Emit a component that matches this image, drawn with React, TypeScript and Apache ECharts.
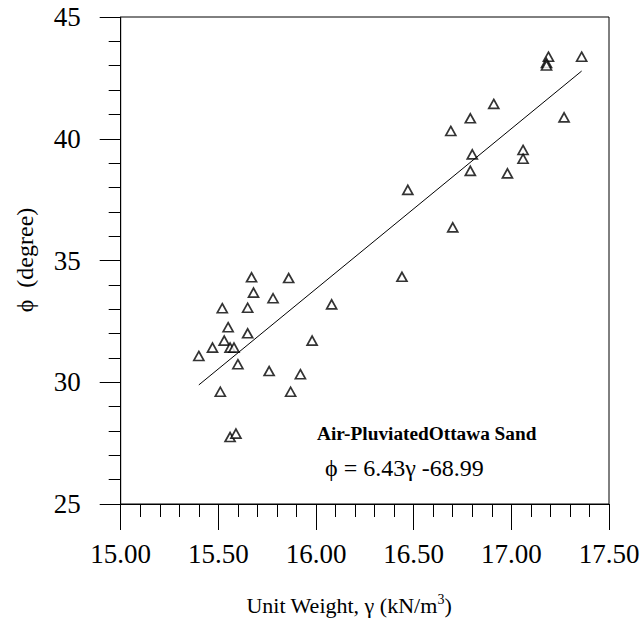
import React, { useEffect, useRef } from "react";
import * as echarts from "echarts";

const unitWeight = [
  15.67, 15.86, 15.68, 15.78, 16.08, 15.52, 15.65, 15.55, 15.65, 15.53,
  15.98, 15.47, 15.56, 15.58, 15.4, 15.6, 15.76, 15.92, 15.51, 15.87,
  15.56, 15.59, 17.19, 17.18, 17.18, 17.36, 16.91, 16.79, 17.27, 16.69,
  16.8, 17.06, 17.06, 16.79, 16.98, 16.47, 16.7, 16.44,
];
const frictionAngle = [
  34.31, 34.28, 33.68, 33.45, 33.2, 33.04, 33.06, 32.26, 32.01, 31.71,
  31.71, 31.42, 31.42, 31.42, 31.08, 30.74, 30.46, 30.33, 29.61, 29.61,
  27.75, 27.89, 43.37, 43.11, 43.01, 43.37, 41.43, 40.84, 40.88, 40.32,
  39.36, 39.54, 39.18, 38.68, 38.58, 37.9, 36.36, 34.33,
];
const trendX = [15.4, 17.36];
const trendY = [29.89, 42.78];

const xTicks = { min: 15, max: 17.5, interval: 0.5 };
const yTicks = { min: 25, max: 45, interval: 5 };

const titleText = "Air-PluviatedOttawa Sand";
const equationText = "ϕ = 6.43γ -68.99";
const yAxisTitle = "ϕ  (degree)";

const FONT = "Liberation Serif";

export default function App() {
  const ref = useRef<HTMLDivElement>(null);
  useEffect(() => {
    document.body.style.margin = "0";
    const chart = echarts.init(ref.current!, null, { renderer: "svg" });
    const points = unitWeight.map((g, i) => [g, frictionAngle[i]]);
    const line = trendX.map((g, i) => [g, trendY[i]]);
    chart.setOption({
      animation: false,
      backgroundColor: "#fff",
      textStyle: { fontFamily: FONT },
      grid: {
        left: 120.7,
        top: 17,
        width: 488.3,
        height: 487,
        show: true,
        borderColor: "#000",
        borderWidth: 1,
        backgroundColor: "transparent",
      },
      xAxis: {
        type: "value",
        min: xTicks.min,
        max: xTicks.max,
        interval: xTicks.interval,
        axisLine: { show: true, lineStyle: { color: "#000", width: 1 } },
        axisTick: { show: true, inside: false, length: 26, lineStyle: { color: "#000" } },
        minorTick: { show: true, splitNumber: 5, length: 13, lineStyle: { color: "#000" } },
        splitLine: { show: false },
        axisLabel: {
          color: "#000",
          fontSize: 27,
          fontFamily: FONT,
          margin: 36,
          formatter: (v: number) => v.toFixed(2),
        },
      },
      yAxis: {
        type: "value",
        min: yTicks.min,
        max: yTicks.max,
        interval: yTicks.interval,
        axisLine: { show: true, lineStyle: { color: "#000", width: 1 } },
        axisTick: { show: true, inside: false, length: 21, lineStyle: { color: "#000" } },
        minorTick: { show: true, splitNumber: 5, length: 12, lineStyle: { color: "#000" } },
        splitLine: { show: false },
        axisLabel: {
          color: "#000",
          fontSize: 27,
          fontFamily: FONT,
          margin: 40,
        },
      },
      series: [
        {
          type: "line",
          data: line,
          symbol: "none",
          lineStyle: { color: "#000", width: 1 },
          silent: true,
        },
        {
          type: "scatter",
          data: points,
          symbol: "triangle",
          symbolSize: [10, 9],
          itemStyle: { color: "#fff", borderColor: "#000", borderWidth: 1.7 },
        },
      ],
      graphic: [
        {
          type: "text",
          left: 317,
          top: 424,
          style: {
            text: titleText,
            font: `bold 19.3px ${FONT}`,
            fill: "#000",
          },
        },
        {
          type: "text",
          left: 325,
          top: 456,
          style: {
            text: equationText,
            font: `24px ${FONT}`,
            fill: "#000",
          },
        },
        {
          type: "text",
          x: 349,
          y: 605,
          style: {
            text: "{a|Unit Weight, γ (kN/m}{s|3}{a|)}",
            align: "center",
            verticalAlign: "middle",
            fill: "#000",
            rich: {
              a: { fontSize: 22, fontFamily: FONT, lineHeight: 26, fill: "#000" },
              s: { fontSize: 14, fontFamily: FONT, lineHeight: 14, verticalAlign: "top", fill: "#000" },
            },
          },
        },
        {
          type: "text",
          x: 25,
          y: 260,
          rotation: Math.PI / 2,
          style: {
            text: yAxisTitle,
            align: "center",
            verticalAlign: "middle",
            font: `24px ${FONT}`,
            fill: "#000",
          },
        },
      ],
    });
    return () => chart.dispose();
  }, []);
  return (
    <div
      ref={ref}
      style={{ position: "absolute", left: 0, top: 0, width: 643, height: 628 }}
    />
  );
}
